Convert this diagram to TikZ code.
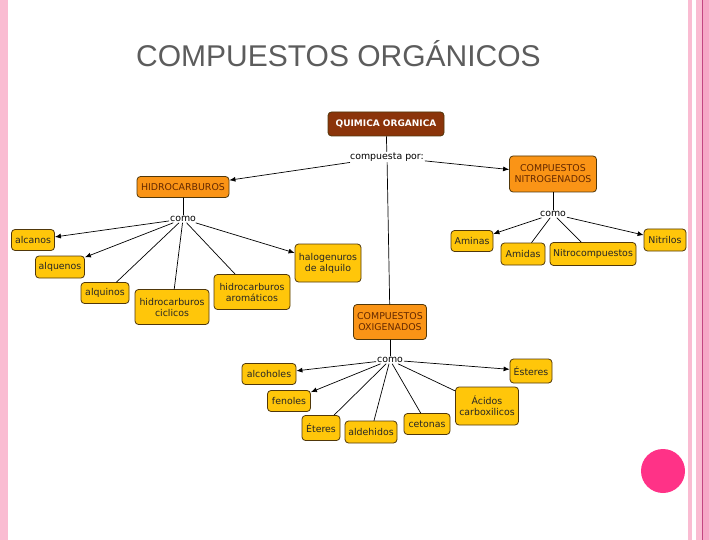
\documentclass[tikz,border=0pt]{standalone}
\usepackage{fontspec}
\setmainfont{DejaVu Sans}
\newfontfamily\titlefont{Liberation Sans}
\usetikzlibrary{arrows.meta}
\definecolor{qobrown}{RGB}{139,52,10}
\definecolor{grporange}{RGB}{250,148,22}
\definecolor{grptext}{RGB}{100,40,0}
\definecolor{leafyellow}{RGB}{255,198,10}
\definecolor{boxline}{RGB}{80,55,10}
\definecolor{titlegray}{RGB}{92,92,92}
\definecolor{pinklight}{RGB}{250,188,210}
\definecolor{pinkmid}{RGB}{246,168,198}
\definecolor{pinkdark}{RGB}{196,70,130}
\definecolor{dotpink}{RGB}{255,50,135}

\begin{document}
\begin{tikzpicture}[x=1pt, y=-1pt, >={Latex[length=6pt,width=5pt]}, line cap=round, line join=round,
	font=\fontsize{9.4}{11}\selectfont,
	box/.style={draw=boxline, line width=0.8pt, rounded corners=3.5pt, inner sep=1.5pt, align=center},
	root/.style={box, fill=qobrown, text=white, font=\fontsize{9}{11}\selectfont\bfseries},
	group/.style={box, fill=grporange, text=grptext},
	leaf/.style={box, fill=leafyellow, text=black!85},
	link/.style={fill=white, inner sep=1pt},
	conn/.style={line width=0.7pt}]
	
	\useasboundingbox (0,0) rectangle (720,540);
	
	%========================
	% slide frame
	%========================
	\fill[pinklight] (0,0) rectangle (8,540);
	\fill[pinklight] (688,0) rectangle (692,540);
	\fill[pinklight] (696,0) rectangle (720,540);
	\fill[pinkmid] (703,0) rectangle (709,540);
	\draw[pinkdark, line width=1pt] (702.5,0) -- (702.5,540);
	\fill[dotpink] (663,471) circle (22);
	
	\node[anchor=base west, inner sep=0, text=titlegray, font=\titlefont\fontsize{30}{33}\selectfont]
		(title) at (136,67) {COMPUESTOS ORGÁNICOS};
	
	%========================
	% top of the map
	%========================
	\node[root, minimum width=116, minimum height=24] (qo) at (386,124) {QUIMICA ORGANICA};
	\node[link] (por) at (387,157) {compuesta por:};
	\node[group, minimum width=92, minimum height=21] (hc) at (183,187) {HIDROCARBUROS};
	\node[group, minimum width=87, minimum height=36] (ng) at (553,174) {COMPUESTOS\\NITROGENADOS};
	\node[group, minimum width=73, minimum height=35] (ox) at (390,322) {COMPUESTOS\\OXIGENADOS};
	
	\draw[conn] (qo) -- (por);
	\draw[conn,->] (por) -- (hc);
	\draw[conn,->] (por) -- (ng);
	\draw[conn] (por) -- (ox);
	
	%========================
	% hidrocarburos
	%========================
	\node[link] (comoH) at (183,219) {como};
	\node[leaf, minimum width=43, minimum height=21] (alcanos) at (33,240) {alcanos};
	\node[leaf, minimum width=49, minimum height=22] (alquenos) at (60,267) {alquenos};
	\node[leaf, minimum width=48, minimum height=21] (alquinos) at (105,293) {alquinos};
	\node[leaf, minimum width=74, minimum height=35] (ciclicos) at (172,307) {hidrocarburos\\ciclicos};
	\node[leaf, minimum width=76, minimum height=35] (aromaticos) at (252,292) {hidrocarburos\\aromáticos};
	\node[leaf, minimum width=66, minimum height=38] (halogenuros) at (328,263) {halogenuros\\de alquilo};
	
	\draw[conn] (hc) -- (comoH);
	\foreach \n in {alcanos,alquenos,halogenuros}
		\draw[conn,->] (comoH) -- (\n);
	\foreach \n in {alquinos,ciclicos,aromaticos}
		\draw[conn] (comoH) -- (\n);
	
	%========================
	% nitrogenados
	%========================
	\node[link] (comoN) at (553,214) {como};
	\node[leaf, minimum width=42, minimum height=21] (aminas) at (472,241) {Aminas};
	\node[leaf, minimum width=44, minimum height=22] (amidas) at (523,254) {Amidas};
	\node[leaf, minimum width=86, minimum height=23] (nitrocomp) at (593,254) {Nitrocompuestos};
	\node[leaf, minimum width=42, minimum height=22] (nitrilos) at (665,240) {Nitrilos};
	
	\draw[conn] (ng) -- (comoN);
	\foreach \n in {aminas,nitrilos}
		\draw[conn,->] (comoN) -- (\n);
	\foreach \n in {amidas,nitrocomp}
		\draw[conn] (comoN) -- (\n);
	
	%========================
	% oxigenados
	%========================
	\node[link] (comoO) at (390,360) {como};
	\node[leaf, minimum width=54, minimum height=21] (alcoholes) at (269,374) {alcoholes};
	\node[leaf, minimum width=43, minimum height=21] (fenoles) at (289,401) {fenoles};
	\node[leaf, minimum width=38, minimum height=25] (eteres) at (321,428) {Éteres};
	\node[leaf, minimum width=52, minimum height=22] (aldehidos) at (371,432) {aldehidos};
	\node[leaf, minimum width=46, minimum height=21] (cetonas) at (427,424) {cetonas};
	\node[leaf, minimum width=63, minimum height=38] (acidos) at (487,406) {Ácidos\\carboxilicos};
	\node[leaf, minimum width=42, minimum height=24] (esteres) at (531,371) {Ésteres};
	
	\draw[conn] (ox) -- (comoO);
	\foreach \n in {alcoholes,fenoles,esteres}
		\draw[conn,->] (comoO) -- (\n);
	\foreach \n in {eteres,aldehidos,cetonas,acidos}
		\draw[conn] (comoO) -- (\n);
	
\end{tikzpicture}
\end{document}
